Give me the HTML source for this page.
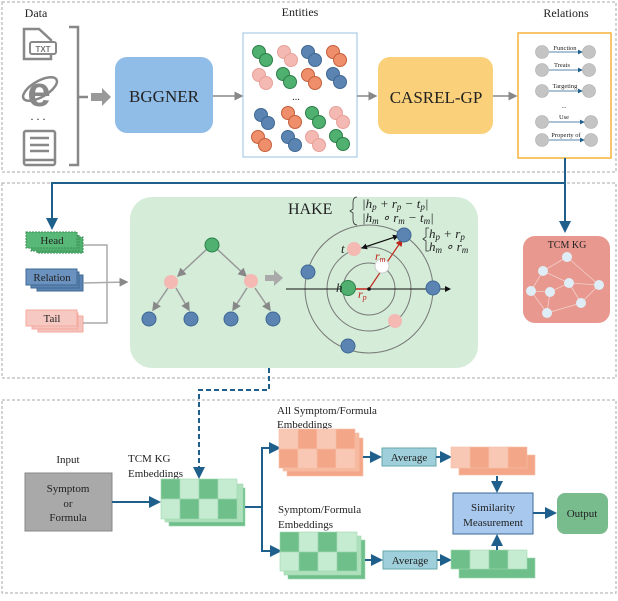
<!DOCTYPE html>
<html><head><meta charset="utf-8"><style>
html,body{margin:0;padding:0;background:#fff}
svg text{font-family:"Liberation Serif",serif;fill:#222}
</style></head><body>
<svg width="618" height="596" viewBox="0 0 618 596" xmlns="http://www.w3.org/2000/svg">
<defs>
<marker id="ag" markerWidth="6" markerHeight="6" refX="5" refY="3" orient="auto"><path d="M0,0 L6,3 L0,6z" fill="#888"/></marker>
<marker id="ab" markerWidth="6" markerHeight="6" refX="5" refY="3" orient="auto"><path d="M0,0 L6,3 L0,6z" fill="#1f5f8b"/></marker>
<marker id="ak" markerWidth="6" markerHeight="6" refX="5" refY="3" orient="auto"><path d="M0,0 L6,3 L0,6z" fill="#111"/></marker>
<marker id="ar" markerWidth="6" markerHeight="6" refX="5" refY="3" orient="auto"><path d="M0,0 L6,3 L0,6z" fill="#c0281c"/></marker>
</defs>
<rect x="2" y="2" width="614" height="170" fill="none" stroke="#aaa" stroke-dasharray="3,2"/>
<rect x="2" y="183" width="614" height="195" fill="none" stroke="#aaa" stroke-dasharray="3,2"/>
<rect x="2" y="400" width="614" height="193" fill="none" stroke="#aaa" stroke-dasharray="3,2"/>

<!-- top -->
<text x="36" y="17" font-size="12" text-anchor="middle">Data</text>
<text x="300" y="16" font-size="12" text-anchor="middle">Entities</text>
<text x="566" y="17" font-size="12" text-anchor="middle">Relations</text>
<g fill="none" stroke="#888" stroke-width="2.5">
<path d="M24,29 h15 l12,11 v19 h-27z"/>
<rect x="24" y="131" width="31" height="34" rx="2"/>
<path d="M30,138 h19 M30,145 h19 M30,151 h19 M24,160 h31"/>
<path d="M69,27 h9 v138 h-9 M78,97 h10"/>
</g>
<rect x="30" y="42" width="26" height="12" rx="2" fill="#fff" stroke="#888" stroke-width="2"/>
<text x="43" y="52" font-size="8" text-anchor="middle" style="fill:#777;font-weight:bold;font-family:'Liberation Sans'">TXT</text>
<text x="39" y="106" font-size="42" text-anchor="middle" style="fill:#888;font-family:'Liberation Sans';font-weight:bold">e</text>
<ellipse cx="40" cy="89" rx="19" ry="8" fill="none" stroke="#888" stroke-width="2.5" transform="rotate(-30 40 89)"/>
<text x="38" y="120" font-size="12" text-anchor="middle">. . .</text>
<path d="M91,93 h11 v-5 l9,9 l-9,9 v-5 h-11z" fill="#999"/>
<rect x="115" y="57" width="98" height="76" rx="12" fill="#90bce8"/>
<text x="164" y="102" font-size="17" text-anchor="middle">BGGNER</text>
<line x1="213" y1="96" x2="242" y2="96" stroke="#888" stroke-width="1.5" marker-end="url(#ag)"/>
<rect x="243" y="33" width="114" height="124" fill="#fff" stroke="#9bc1e0"/>
<g stroke-width="1">
<circle cx="259" cy="52" r="6.5" fill="#4fb070" stroke="#2c8048"/><circle cx="266" cy="60" r="6.5" fill="#4fb070" stroke="#2c8048"/>
<circle cx="284" cy="52" r="6.5" fill="#f4b9b2" stroke="#e8a09a"/><circle cx="291" cy="60" r="6.5" fill="#f4b9b2" stroke="#e8a09a"/>
<circle cx="308" cy="52" r="6.5" fill="#5c84b2" stroke="#3e6894"/><circle cx="315" cy="60" r="6.5" fill="#5c84b2" stroke="#3e6894"/>
<circle cx="333" cy="52" r="6.5" fill="#ee8e6a" stroke="#c55f3c"/><circle cx="340" cy="60" r="6.5" fill="#ee8e6a" stroke="#c55f3c"/>
<circle cx="259" cy="75" r="6.5" fill="#f4b9b2" stroke="#e8a09a"/><circle cx="266" cy="83" r="6.5" fill="#f4b9b2" stroke="#e8a09a"/>
<circle cx="283" cy="74" r="6.5" fill="#4fb070" stroke="#2c8048"/><circle cx="290" cy="82" r="6.5" fill="#4fb070" stroke="#2c8048"/>
<circle cx="308" cy="75" r="6.5" fill="#ee8e6a" stroke="#c55f3c"/><circle cx="315" cy="83" r="6.5" fill="#ee8e6a" stroke="#c55f3c"/>
<circle cx="333" cy="74" r="6.5" fill="#5c84b2" stroke="#3e6894"/><circle cx="340" cy="82" r="6.5" fill="#5c84b2" stroke="#3e6894"/>
<circle cx="261" cy="115" r="6.5" fill="#5c84b2" stroke="#3e6894"/><circle cx="268" cy="123" r="6.5" fill="#5c84b2" stroke="#3e6894"/>
<circle cx="288" cy="113" r="6.5" fill="#ee8e6a" stroke="#c55f3c"/><circle cx="295" cy="122" r="6.5" fill="#ee8e6a" stroke="#c55f3c"/>
<circle cx="312" cy="113" r="6.5" fill="#4fb070" stroke="#2c8048"/><circle cx="319" cy="122" r="6.5" fill="#4fb070" stroke="#2c8048"/>
<circle cx="336" cy="113" r="6.5" fill="#f4b9b2" stroke="#e8a09a"/><circle cx="343" cy="122" r="6.5" fill="#f4b9b2" stroke="#e8a09a"/>
<circle cx="258" cy="137" r="6.5" fill="#ee8e6a" stroke="#c55f3c"/><circle cx="265" cy="145" r="6.5" fill="#ee8e6a" stroke="#c55f3c"/>
<circle cx="288" cy="137" r="6.5" fill="#5c84b2" stroke="#3e6894"/><circle cx="295" cy="145" r="6.5" fill="#5c84b2" stroke="#3e6894"/>
<circle cx="312" cy="137" r="6.5" fill="#f4b9b2" stroke="#e8a09a"/><circle cx="319" cy="145" r="6.5" fill="#f4b9b2" stroke="#e8a09a"/>
<circle cx="336" cy="136" r="6.5" fill="#4fb070" stroke="#2c8048"/><circle cx="343" cy="144" r="6.5" fill="#4fb070" stroke="#2c8048"/>
</g>
<text x="296" y="100" font-size="10" text-anchor="middle">...</text>
<line x1="357" y1="96" x2="376" y2="96" stroke="#888" stroke-width="1.5" marker-end="url(#ag)"/>
<rect x="378" y="57" width="115" height="77" rx="12" fill="#fbd07a"/>
<text x="436" y="103" font-size="17" text-anchor="middle">CASREL-GP</text>
<line x1="493" y1="96" x2="516" y2="96" stroke="#888" stroke-width="1.5" marker-end="url(#ag)"/>
<rect x="518" y="33" width="93" height="125" fill="#fff" stroke="#f5b23c" stroke-width="1.5"/>
<g font-size="6.5">
<g fill="#c4c4c4" stroke="#aaa" stroke-width="0.6">
<circle cx="542" cy="52" r="6.5"/><circle cx="589" cy="52" r="6.5"/>
<circle cx="542" cy="70" r="6.5"/><circle cx="589" cy="70" r="6.5"/>
<circle cx="542" cy="91" r="6.5"/><circle cx="589" cy="91" r="6.5"/>
<circle cx="542" cy="122" r="6.5"/><circle cx="591" cy="122" r="6.5"/>
<circle cx="542" cy="140" r="6.5"/><circle cx="591" cy="140" r="6.5"/>
</g>
<g stroke="#1f5f8b" stroke-width="0.8">
<line x1="549" y1="52" x2="582" y2="52" marker-end="url(#ab)"/>
<line x1="549" y1="70" x2="582" y2="70" marker-end="url(#ab)"/>
<line x1="549" y1="91" x2="582" y2="91" marker-end="url(#ab)"/>
<line x1="549" y1="122" x2="584" y2="122" marker-end="url(#ab)"/>
<line x1="549" y1="140" x2="584" y2="140" marker-end="url(#ab)"/>
</g>
<text x="565" y="50" text-anchor="middle">Function</text>
<text x="562" y="67" text-anchor="middle">Treats</text>
<text x="565" y="88" text-anchor="middle">Targeting</text>
<text x="564" y="108" text-anchor="middle">...</text>
<text x="564" y="119" text-anchor="middle">Use</text>
<text x="566" y="137" text-anchor="middle">Property of</text>
</g>

<g stroke="#1f5f8b" stroke-width="2" fill="none">
<path d="M565,158 V183 H52 V228" marker-end="url(#ab)"/>
<path d="M565,183 V231" marker-end="url(#ab)"/>
</g>

<!-- middle -->
<rect x="130" y="197" width="348" height="171" rx="22" fill="#d4ecd8"/>
<g stroke="#3d8f55" stroke-dasharray="2,1">
<rect x="37" y="237" width="46" height="16" fill="#4fb070"/>
<rect x="31" y="235" width="48" height="16" fill="#4fb070"/>
<rect x="26" y="232" width="51" height="16" fill="#58b878"/>
</g>
<g stroke="#3e6894">
<rect x="37" y="275" width="46" height="16" fill="#5c84b2"/>
<rect x="31" y="272" width="48" height="16" fill="#5c84b2"/>
<rect x="26" y="269" width="51" height="16" fill="#6b92be"/>
</g>
<g stroke="#f4a99e">
<rect x="38" y="316" width="45" height="16" fill="#f4c3bc"/>
<rect x="32" y="313" width="46" height="16" fill="#f4c3bc"/>
<rect x="26" y="310" width="51" height="16" fill="#f6c9c2"/>
</g>
<text x="52" y="244" font-size="11" text-anchor="middle">Head</text>
<text x="52" y="281" font-size="11" text-anchor="middle">Relation</text>
<text x="52" y="322" font-size="11" text-anchor="middle">Tail</text>
<path d="M83,245 H107 V323 H83" stroke="#aaa" stroke-width="1.5" fill="none"/>
<line x1="83" y1="283" x2="127" y2="282" stroke="#aaa" stroke-width="1.5" marker-end="url(#ag)"/>
<g stroke="#999" stroke-width="1.5">
<line x1="207" y1="249" x2="178" y2="276" marker-end="url(#ag)"/>
<line x1="217" y1="249" x2="246" y2="276" marker-end="url(#ag)"/>
<line x1="168" y1="288" x2="153" y2="310" marker-end="url(#ag)"/>
<line x1="176" y1="288" x2="189" y2="310" marker-end="url(#ag)"/>
<line x1="247" y1="288" x2="233" y2="310" marker-end="url(#ag)"/>
<line x1="255" y1="288" x2="270" y2="310" marker-end="url(#ag)"/>
</g>
<circle cx="212" cy="245" r="7" fill="#4fb070" stroke="#2c8048"/>
<circle cx="171" cy="282" r="7" fill="#f4b9b2"/>
<circle cx="251" cy="281" r="7" fill="#f4b9b2"/>
<g fill="#5c84b2" stroke="#3e6894"><circle cx="149" cy="319" r="7"/><circle cx="191" cy="319" r="7"/><circle cx="231" cy="319" r="7"/><circle cx="273" cy="319" r="7"/></g>
<path d="M265,275 h9 v-5 l9,8 l-9,8 v-5 h-9z" fill="#aaa"/>
<text x="288" y="214" font-size="16">HAKE</text>
<path d="M357,197 q-4,0 -4,6 v6 l-3,2 l3,2 v6 q0,6 4,6" fill="none" stroke="#333" stroke-width="0.8"/>
<g font-size="13" font-style="italic">
<text x="362" y="208">|h<tspan font-size="9" dy="2">p</tspan><tspan dy="-2"> + r</tspan><tspan font-size="9" dy="2">p</tspan><tspan dy="-2"> − t</tspan><tspan font-size="9" dy="2">p</tspan><tspan dy="-2">|</tspan></text>
<text x="362" y="222">|h<tspan font-size="9" dy="2">m</tspan><tspan dy="-2"> ∘ r</tspan><tspan font-size="9" dy="2">m</tspan><tspan dy="-2"> − t</tspan><tspan font-size="9" dy="2">m</tspan><tspan dy="-2">|</tspan></text>
<text x="429" y="238">h<tspan font-size="9" dy="2">p</tspan><tspan dy="-2"> + r</tspan><tspan font-size="9" dy="2">p</tspan></text>
<text x="429" y="251">h<tspan font-size="9" dy="2">m</tspan><tspan dy="-2"> ∘ r</tspan><tspan font-size="9" dy="2">m</tspan></text>
</g>
<path d="M429,228 h-3 v9 l-3,2 l3,2 v10 h3" fill="none" stroke="#333" stroke-width="0.8"/>
<g fill="none" stroke="#777" stroke-width="1">
<circle cx="369" cy="289" r="26"/><circle cx="369" cy="289" r="42"/><circle cx="369" cy="289" r="64"/>
</g>
<line x1="286" y1="289" x2="450" y2="289" stroke="#111" stroke-width="1" marker-end="url(#ak)"/>
<line x1="369" y1="289" x2="355" y2="289" stroke="#c0281c" stroke-width="1.5"/>
<line x1="369" y1="289" x2="402" y2="240" stroke="#c0281c" stroke-width="1.2" marker-end="url(#ar)"/>
<line x1="362" y1="248" x2="398" y2="236" stroke="#111" stroke-width="1" marker-end="url(#ak)"/>
<line x1="398" y1="236" x2="362" y2="248" stroke="#111" stroke-width="1" marker-end="url(#ak)"/>
<circle cx="369" cy="289" r="1.8" fill="#111"/>
<circle cx="382" cy="266" r="7" fill="#fff" stroke="#ccc"/>
<circle cx="348" cy="288" r="7.5" fill="#4fb070" stroke="#2c8048"/>
<circle cx="354" cy="249" r="7" fill="#f4b9b2"/>
<circle cx="395" cy="321" r="7" fill="#f4b9b2"/>
<g fill="#5c84b2" stroke="#3e6894"><circle cx="404" cy="235" r="7"/><circle cx="308" cy="272" r="7"/><circle cx="433" cy="288" r="7"/><circle cx="348" cy="346" r="7"/></g>
<text x="336" y="292" font-size="13" font-style="italic">h</text>
<text x="341" y="253" font-size="13" font-style="italic">t</text>
<text x="358" y="298" font-size="12" font-style="italic" style="fill:#c0281c">r<tspan font-size="8" dy="2">p</tspan></text>
<text x="375" y="260" font-size="12" font-style="italic" style="fill:#c0281c">r<tspan font-size="8" dy="2">m</tspan></text>
<rect x="523" y="236" width="87" height="87" rx="12" fill="#e8988e"/>
<text x="567" y="248" font-size="10" text-anchor="middle">TCM KG</text>
<path d="M567,257 L543,271 L531,291 L547,313 L581,303 L599,285 L567,257 M543,271 L569,283 L550,292 L531,291 M569,283 L581,303 M550,292 L547,313 M569,283 L599,285" fill="none" stroke="#f3d0cc" stroke-width="0.8"/>
<g fill="#dfeef6"><circle cx="567" cy="257" r="5"/><circle cx="543" cy="271" r="5"/><circle cx="569" cy="283" r="5"/><circle cx="599" cy="285" r="5"/><circle cx="531" cy="291" r="5"/><circle cx="550" cy="292" r="5"/><circle cx="581" cy="303" r="5"/><circle cx="547" cy="313" r="5"/></g>

<path d="M269,368 V390 H199 V477" fill="none" stroke="#1f5f8b" stroke-width="2" stroke-dasharray="5,3" marker-end="url(#ab)"/>

<!-- bottom -->
<text x="68" y="463" font-size="11" text-anchor="middle">Input</text>
<rect x="25" y="473" width="87" height="58" fill="#a9a9a9" stroke="#888"/>
<text x="68" y="492" font-size="11" text-anchor="middle">Symptom</text>
<text x="68" y="507" font-size="11" text-anchor="middle">or</text>
<text x="68" y="521" font-size="11" text-anchor="middle">Formula</text>
<text x="128" y="462" font-size="11">TCM KG</text>
<text x="128" y="477" font-size="11">Embeddings</text>
<line x1="112" y1="502" x2="159" y2="502" stroke="#1f5f8b" stroke-width="2" marker-end="url(#ab)"/>
<g stroke="#9fd8b0" stroke-width="0.6">
<rect x="169" y="488" width="76" height="38" fill="#6fbf8a"/>
<rect x="165" y="484" width="78" height="38" fill="#aee0bc"/>
<rect x="161" y="479" width="19" height="20" fill="#6fbf8a"/><rect x="180" y="479" width="19" height="20" fill="#c5ebd0"/><rect x="199" y="479" width="19" height="20" fill="#6fbf8a"/><rect x="218" y="479" width="19" height="20" fill="#c5ebd0"/>
<rect x="161" y="499" width="19" height="20" fill="#c5ebd0"/><rect x="180" y="499" width="19" height="20" fill="#6fbf8a"/><rect x="199" y="499" width="19" height="20" fill="#c5ebd0"/><rect x="218" y="499" width="19" height="20" fill="#6fbf8a"/>
</g>
<path d="M245,507 H262 M262,448 V552" fill="none" stroke="#1f5f8b" stroke-width="2"/>
<line x1="261" y1="448" x2="279" y2="448" stroke="#1f5f8b" stroke-width="2" marker-end="url(#ab)"/>
<line x1="261" y1="551" x2="280" y2="551" stroke="#1f5f8b" stroke-width="2" marker-end="url(#ab)"/>
<text x="277" y="414" font-size="11">All Symptom/Formula</text>
<text x="277" y="428" font-size="11">Embeddings</text>
<text x="278" y="513" font-size="11">Symptom/Formula</text>
<text x="278" y="528" font-size="11">Embeddings</text>
<g stroke="#f6c0a8" stroke-width="0.6">
<rect x="287" y="438" width="76" height="38" fill="#f3a688"/>
<rect x="283" y="433" width="76" height="38" fill="#f6b89e"/>
<rect x="279" y="429" width="19" height="20" fill="#f9c8b4"/><rect x="298" y="429" width="19" height="20" fill="#f3a688"/><rect x="317" y="429" width="19" height="20" fill="#f9c8b4"/><rect x="336" y="429" width="19" height="20" fill="#f3a688"/>
<rect x="279" y="449" width="19" height="19" fill="#f3a688"/><rect x="298" y="449" width="19" height="19" fill="#f9c8b4"/><rect x="317" y="449" width="19" height="19" fill="#f3a688"/><rect x="336" y="449" width="19" height="19" fill="#f9c8b4"/>
</g>
<g stroke="#9fd8b0" stroke-width="0.6">
<rect x="288" y="540" width="77" height="39" fill="#6fbf8a"/>
<rect x="284" y="536" width="77" height="39" fill="#aee0bc"/>
<rect x="280" y="532" width="19" height="20" fill="#6fbf8a"/><rect x="299" y="532" width="19" height="20" fill="#c5ebd0"/><rect x="318" y="532" width="19" height="20" fill="#6fbf8a"/><rect x="337" y="532" width="20" height="20" fill="#c5ebd0"/>
<rect x="280" y="552" width="19" height="19" fill="#c5ebd0"/><rect x="299" y="552" width="19" height="19" fill="#6fbf8a"/><rect x="318" y="552" width="19" height="19" fill="#c5ebd0"/><rect x="337" y="552" width="20" height="19" fill="#6fbf8a"/>
</g>
<line x1="363" y1="457" x2="380" y2="457" stroke="#1f5f8b" stroke-width="2" marker-end="url(#ab)"/>
<rect x="382" y="448" width="54" height="18" fill="#9fcfda" stroke="#6aa"/>
<text x="409" y="461" font-size="11" text-anchor="middle">Average</text>
<line x1="436" y1="457" x2="450" y2="457" stroke="#1f5f8b" stroke-width="2" marker-end="url(#ab)"/>
<g stroke="#f6c0a8" stroke-width="0.6">
<rect x="459" y="455" width="76" height="20" fill="#f3a688"/>
<rect x="451" y="447" width="19" height="21" fill="#f9c8b4"/><rect x="470" y="447" width="19" height="21" fill="#f3a688"/><rect x="489" y="447" width="19" height="21" fill="#f9c8b4"/><rect x="508" y="447" width="19" height="21" fill="#f3a688"/>
</g>
<line x1="497" y1="476" x2="497" y2="491" stroke="#1f5f8b" stroke-width="2" marker-end="url(#ab)"/>
<line x1="365" y1="560" x2="381" y2="560" stroke="#1f5f8b" stroke-width="2" marker-end="url(#ab)"/>
<rect x="383" y="551" width="54" height="18" fill="#9fcfda" stroke="#6aa"/>
<text x="410" y="564" font-size="11" text-anchor="middle">Average</text>
<line x1="437" y1="560" x2="450" y2="560" stroke="#1f5f8b" stroke-width="2" marker-end="url(#ab)"/>
<g stroke="#9fd8b0" stroke-width="0.6">
<rect x="459" y="558" width="76" height="20" fill="#6fbf8a"/>
<rect x="451" y="550" width="19" height="19" fill="#6fbf8a"/><rect x="470" y="550" width="19" height="19" fill="#c5ebd0"/><rect x="489" y="550" width="19" height="19" fill="#6fbf8a"/><rect x="508" y="550" width="19" height="19" fill="#c5ebd0"/>
</g>
<line x1="497" y1="550" x2="497" y2="536" stroke="#1f5f8b" stroke-width="2" marker-end="url(#ab)"/>
<rect x="453" y="493" width="80" height="41" fill="#a8c8ee" stroke="#3e6894"/>
<text x="493" y="511" font-size="11" text-anchor="middle">Similarity</text>
<text x="493" y="526" font-size="11" text-anchor="middle">Measurement</text>
<line x1="533" y1="513" x2="555" y2="513" stroke="#1f5f8b" stroke-width="2" marker-end="url(#ab)"/>
<rect x="557" y="493" width="51" height="41" rx="8" fill="#78bb8c"/>
<text x="582" y="517" font-size="11" text-anchor="middle">Output</text>
</svg>
</body></html>
